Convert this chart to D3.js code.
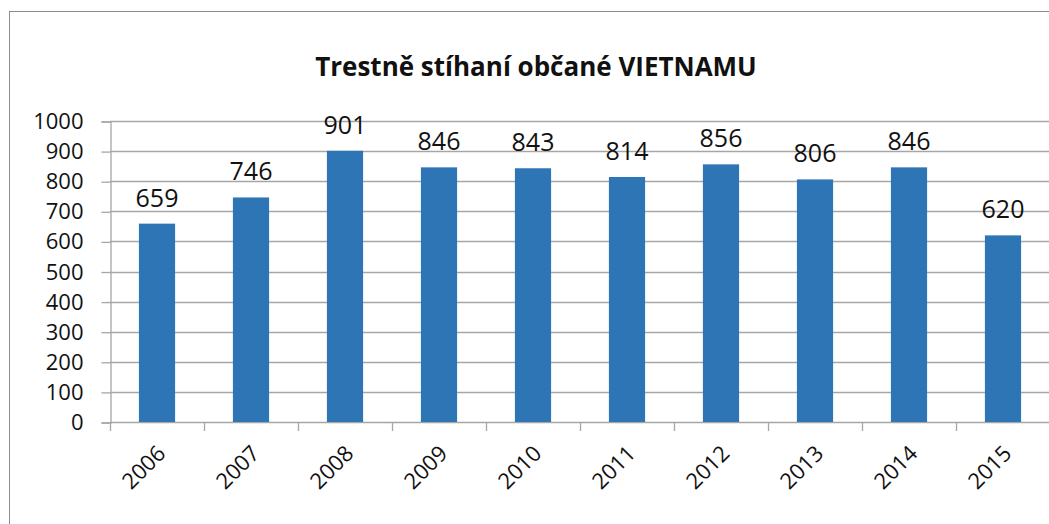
<!DOCTYPE html>
<html>
<head>
<meta charset="utf-8">
<script src="https://cdn.jsdelivr.net/npm/d3@7"></script>
<style>
  body { margin: 0; background: #fff; }
  svg { display: block; font-family: "Open Sans", sans-serif; }
</style>
</head>
<body>
<div id="chart"></div>
<script>
// Trestně stíhaní občané VIETNAMU - bar chart

var years = ["2006", "2007", "2008", "2009", "2010", "2011", "2012", "2013", "2014", "2015"];
var counts = [659, 746, 901, 846, 843, 814, 856, 806, 846, 620];
var yTicks = [0, 100, 200, 300, 400, 500, 600, 700, 800, 900, 1000];
var title = "Trestně stíhaní občané VIETNAMU";

var width = 1049, height = 524;
var margin = {left: 110, right: -1, top: 121, bottom: 102};

var svg = d3.select("#chart").append("svg")
    .attr("width", width)
    .attr("height", height);

// outer frame
svg.append("rect")
    .attr("x", 9.5).attr("y", 11.5)
    .attr("width", width + 20).attr("height", height + 20)
    .attr("fill", "none").attr("stroke", "#8c8c8c").attr("stroke-width", 1);

var x = d3.scaleBand()
    .domain(years)
    .range([margin.left, width - margin.right])
    .paddingInner(0.615).paddingOuter(0.3075);

var y = d3.scaleLinear()
    .domain([0, 1000])
    .range([height - margin.bottom, margin.top]);

// gridlines
svg.append("g")
    .selectAll("line")
    .data(yTicks)
    .join("line")
    .attr("x1", margin.left).attr("x2", width)
    .attr("y1", d => Math.round(y(d)) + 0.5).attr("y2", d => Math.round(y(d)) + 0.5)
    .attr("stroke", "#a6a6a6").attr("stroke-width", 1.3);

// y axis
var yAxis = svg.append("g")
    .attr("transform", "translate(" + (margin.left + 0.5) + ",0.5)")
    .call(d3.axisLeft(y).tickValues(yTicks).tickFormat(d3.format("d")).tickSize(9).tickPadding(18));
yAxis.select(".domain").attr("stroke", "#a6a6a6").attr("stroke-width", 1.3);
yAxis.selectAll(".tick line").attr("stroke", "#a6a6a6").attr("stroke-width", 1.3);
yAxis.selectAll(".tick text")
    .attr("font-size", 22).attr("fill", "#111")
    .attr("font-family", "Open Sans, sans-serif");

// x axis ticks at category boundaries
var x0 = d3.scaleLinear().domain([0, years.length]).range([margin.left, width - margin.right]);
svg.append("g")
    .selectAll("line")
    .data(d3.range(years.length + 1))
    .join("line")
    .attr("x1", d => Math.round(x0(d)) + 0.5).attr("x2", d => Math.round(x0(d)) + 0.5)
    .attr("y1", y(0)).attr("y2", y(0) + 9)
    .attr("stroke", "#a6a6a6").attr("stroke-width", 1.3);

// bars
svg.append("g")
    .selectAll("rect")
    .data(counts)
    .join("rect")
    .attr("x", (d, i) => x(years[i]))
    .attr("width", x.bandwidth())
    .attr("y", d => y(d))
    .attr("height", d => y(0) - y(d))
    .attr("fill", "#2e75b6");

// value labels
svg.append("g")
    .selectAll("text")
    .data(counts)
    .join("text")
    .attr("x", (d, i) => x(years[i]) + x.bandwidth() / 2)
    .attr("y", d => y(d) - 17)
    .attr("text-anchor", "middle")
    .attr("font-size", 25)
    .attr("fill", "#111")
    .text(d => d);

// x labels rotated
svg.append("g")
    .selectAll("text")
    .data(years)
    .join("text")
    .attr("transform", d => "translate(" + (x(d) + x.bandwidth() / 2 - 1) + "," + (y(0) + 22) + ") rotate(-45)")
    .attr("text-anchor", "end")
    .attr("dy", "0.7em")
    .attr("font-size", 22)
    .attr("fill", "#111")
    .text(d => d);

// title
svg.append("text")
    .attr("x", 536).attr("y", 76)
    .attr("text-anchor", "middle")
    .attr("font-size", 26)
    .attr("font-weight", "bold")
    .attr("fill", "#111")
    .text(title);
</script>
</body>
</html>
